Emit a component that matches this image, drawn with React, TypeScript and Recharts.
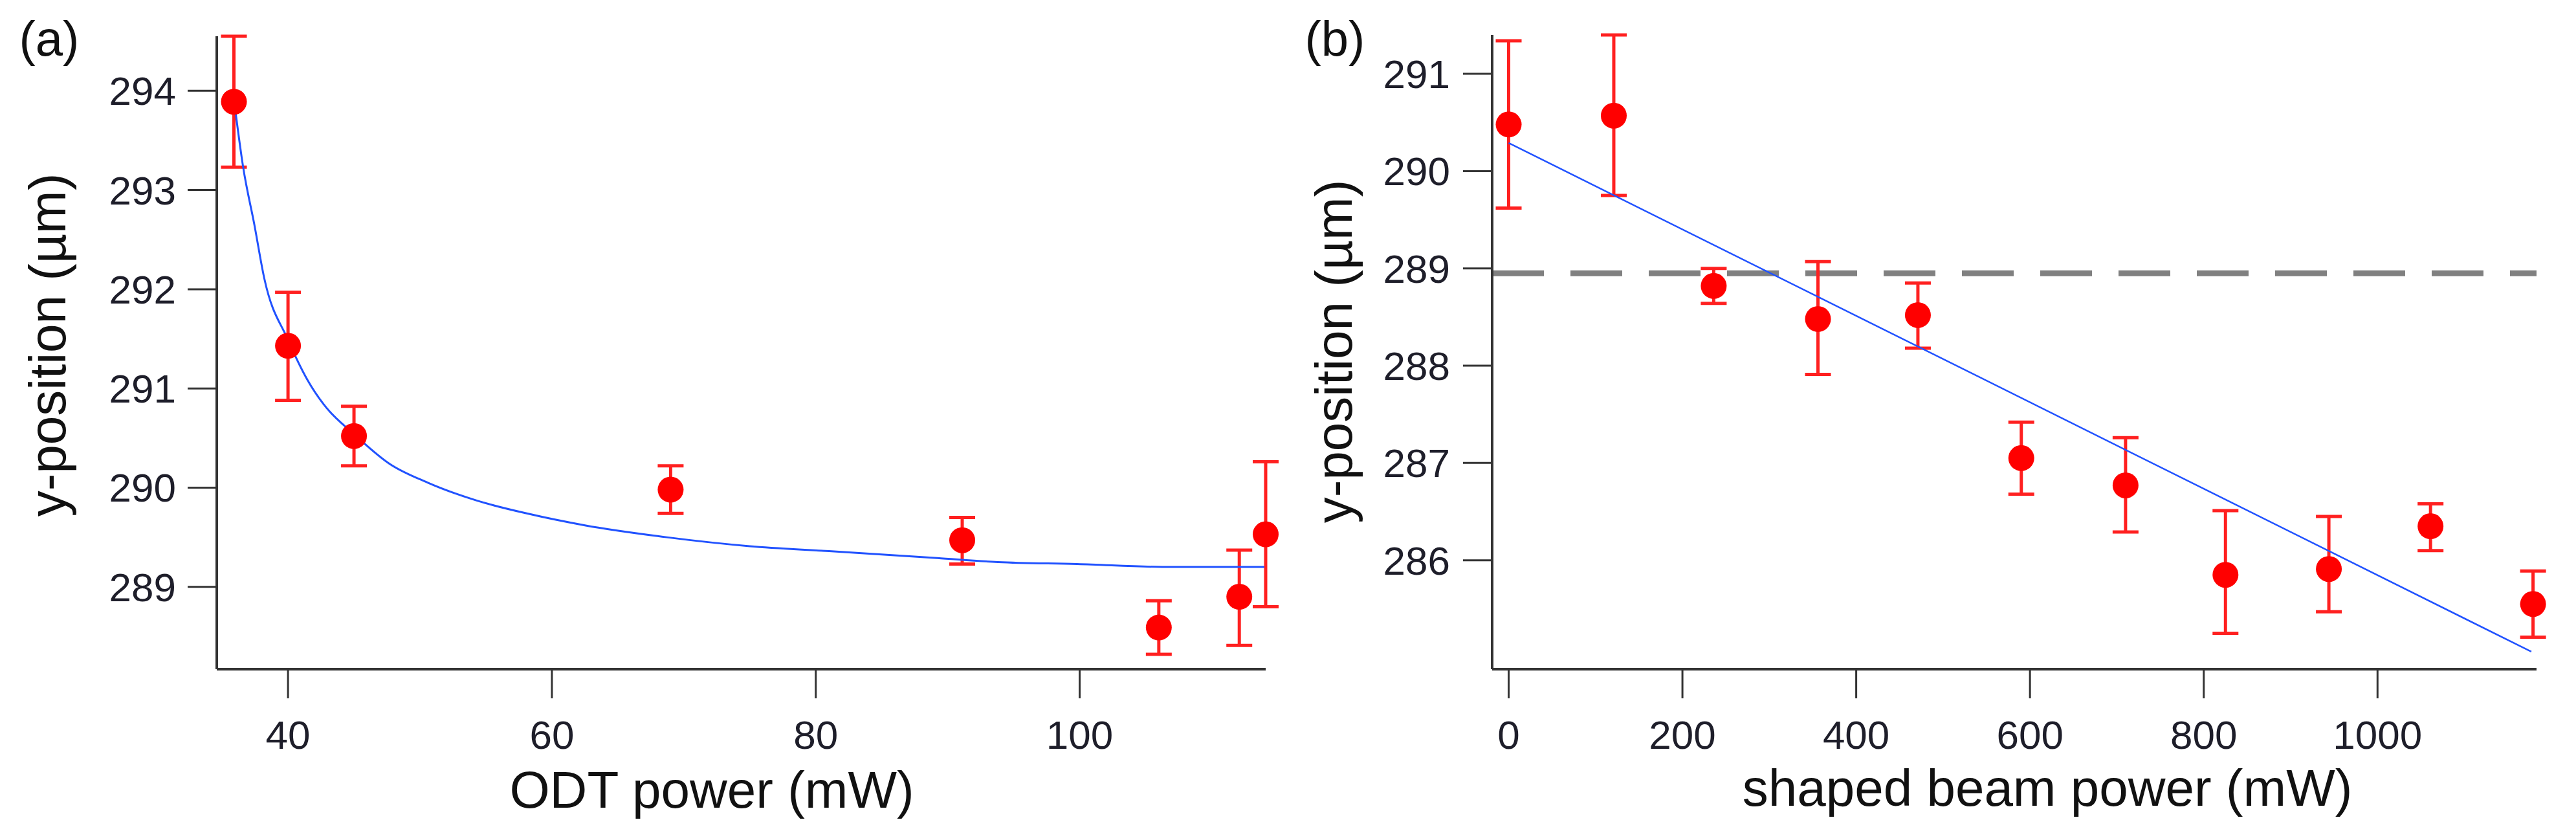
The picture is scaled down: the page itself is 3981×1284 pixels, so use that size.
import React from 'react';
import { ScatterChart, Scatter, XAxis, YAxis, ErrorBar, ReferenceLine } from 'recharts';

// ---------- Panel (a): ODT power ----------
const odtPower = [35.9, 40, 45, 69, 91.1, 106, 112.1, 114.1];
const odtY = [293.89, 291.43, 290.52, 289.98, 289.47, 288.59, 288.9, 289.53];
const odtErrHigh = [294.55, 291.97, 290.82, 290.22, 289.7, 288.86, 289.37, 290.26];
const odtErrLow = [293.23, 290.88, 290.22, 289.74, 289.23, 288.32, 288.41, 288.8];

const odtFitX = [36.0, 36.6, 37.45, 38.2, 40, 41.5, 42.7, 45, 47.7, 50.6, 54.3, 58.1, 62.5, 68.7, 75, 81, 89.2, 93.8, 99.8, 107, 114];
const odtFitY = [293.81, 293.23, 292.65, 292.11, 291.49, 291.08, 290.84, 290.54, 290.24, 290.05, 289.87, 289.74, 289.62, 289.5, 289.41, 289.36, 289.29, 289.25, 289.23, 289.2, 289.2];

const odtXTicks = [40, 60, 80, 100];
const odtYTicks = [289, 290, 291, 292, 293, 294];

// ---------- Panel (b): shaped beam power ----------
const beamPower = [0, 121, 236, 356, 471, 590, 710, 825, 944, 1061, 1179];
const beamY = [290.48, 290.57, 288.82, 288.48, 288.52, 287.05, 286.77, 285.85, 285.91, 286.35, 285.55];
const beamErrHigh = [291.34, 291.4, 289.0, 289.07, 288.85, 287.42, 287.26, 286.51, 286.45, 286.58, 285.89];
const beamErrLow = [289.62, 289.75, 288.64, 287.91, 288.18, 286.68, 286.29, 285.25, 285.47, 286.1, 285.21];

const beamFitX = [0, 1177];
const beamFitY = [290.29, 285.06];
const thresholdY = 288.95;

const beamXTicks = [0, 200, 400, 600, 800, 1000];
const beamYTicks = [286, 287, 288, 289, 290, 291];

// ---------- build tables ----------
const odtData = odtPower.map((x, i) => ({
  x,
  y: odtY[i],
  err: [odtY[i] - odtErrLow[i], odtErrHigh[i] - odtY[i]],
}));
const odtFit = odtFitX.map((x, i) => ({ x, y: odtFitY[i] }));
const beamData = beamPower.map((x, i) => ({
  x,
  y: beamY[i],
  err: [beamY[i] - beamErrLow[i], beamErrHigh[i] - beamY[i]],
}));
const beamFit = beamFitX.map((x, i) => ({ x, y: beamFitY[i] }));

const FONT = '"Liberation Sans", Arial, Helvetica, sans-serif';
const AXIS_COLOR = '#333333';
const RED = '#ff0000';
const BLUE = '#2152ff';

const tickStyle = { fill: '#1e1e2a', fontSize: 62, fontFamily: FONT };

const Dot = (props: any) => {
  const { cx, cy } = props;
  if (cx == null || cy == null) return <g />;
  return <circle cx={cx} cy={cy} r={20} fill={RED} />;
};
const NoDot = () => <g />;

export default function App() {
  return (
    <div style={{ position: 'absolute', left: 0, top: 0, width: 3981, height: 1284, background: '#ffffff', overflow: 'hidden' }}>
      <div style={{ position: 'absolute', left: 0, top: 0 }}>
        <ScatterChart width={2000} height={1284} margin={{ top: 56, right: 44, bottom: 0, left: 0 }}>
          <XAxis
            type="number"
            dataKey="x"
            domain={[34.6, 114.1]}
            ticks={odtXTicks}
            height={250}
            tickSize={45}
            tickMargin={34}
            axisLine={{ stroke: AXIS_COLOR, strokeWidth: 4 }}
            tickLine={{ stroke: AXIS_COLOR, strokeWidth: 3 }}
            tick={tickStyle}
          />
          <YAxis
            type="number"
            dataKey="y"
            domain={[288.17, 294.55]}
            ticks={odtYTicks}
            width={335}
            tickSize={45}
            tickMargin={18}
            axisLine={{ stroke: AXIS_COLOR, strokeWidth: 4 }}
            tickLine={{ stroke: AXIS_COLOR, strokeWidth: 3 }}
            tick={tickStyle}
          />
          <Scatter
            data={odtFit}
            line={{ stroke: BLUE, strokeWidth: 3 }}
            lineJointType="monotoneX"
            shape={NoDot}
            isAnimationActive={false}
          />
          <Scatter data={odtData} shape={Dot} isAnimationActive={false}>
            <ErrorBar dataKey="err" direction="y" width={20} strokeWidth={5} stroke="#ff2020" />
          </Scatter>
        </ScatterChart>
      </div>
      <div style={{ position: 'absolute', left: 1990, top: 0 }}>
        <ScatterChart width={1991} height={1284} margin={{ top: 54, right: 61, bottom: 0, left: 0 }}>
          <XAxis
            type="number"
            dataKey="x"
            domain={[-19, 1183]}
            ticks={beamXTicks}
            height={250}
            tickSize={45}
            tickMargin={34}
            axisLine={{ stroke: AXIS_COLOR, strokeWidth: 4 }}
            tickLine={{ stroke: AXIS_COLOR, strokeWidth: 3 }}
            tick={tickStyle}
          />
          <YAxis
            type="number"
            dataKey="y"
            domain={[284.88, 291.4]}
            ticks={beamYTicks}
            width={316}
            tickSize={45}
            tickMargin={20}
            axisLine={{ stroke: AXIS_COLOR, strokeWidth: 4 }}
            tickLine={{ stroke: AXIS_COLOR, strokeWidth: 3 }}
            tick={tickStyle}
          />
          <ReferenceLine y={thresholdY} stroke="#808080" strokeWidth={9} strokeDasharray="80 41" />
          <Scatter
            data={beamFit}
            line={{ stroke: BLUE, strokeWidth: 2.5 }}
            shape={NoDot}
            isAnimationActive={false}
          />
          <Scatter data={beamData} shape={Dot} isAnimationActive={false}>
            <ErrorBar dataKey="err" direction="y" width={20} strokeWidth={5} stroke="#ff2020" />
          </Scatter>
        </ScatterChart>
      </div>
      <svg
        width={3981}
        height={1284}
        style={{ position: 'absolute', left: 0, top: 0, pointerEvents: 'none' }}
        fontFamily={FONT}
      >
        <text x={76} y={86} fontSize={76} textAnchor="middle" fill="#111111">(a)</text>
        <text x={2063} y={86} fontSize={76} textAnchor="middle" fill="#111111">(b)</text>
        <text x={101} y={533} fontSize={80} textAnchor="middle" fill="#111111" transform="rotate(-90 101 533)">y-position (µm)</text>
        <text x={2089} y={543} fontSize={80} textAnchor="middle" fill="#111111" transform="rotate(-90 2089 543)">y-position (µm)</text>
        <text x={1100} y={1248} fontSize={80} textAnchor="middle" fill="#111111">ODT power (mW)</text>
        <text x={3164} y={1245} fontSize={80} textAnchor="middle" fill="#111111">shaped beam power (mW)</text>
      </svg>
    </div>
  );
}
